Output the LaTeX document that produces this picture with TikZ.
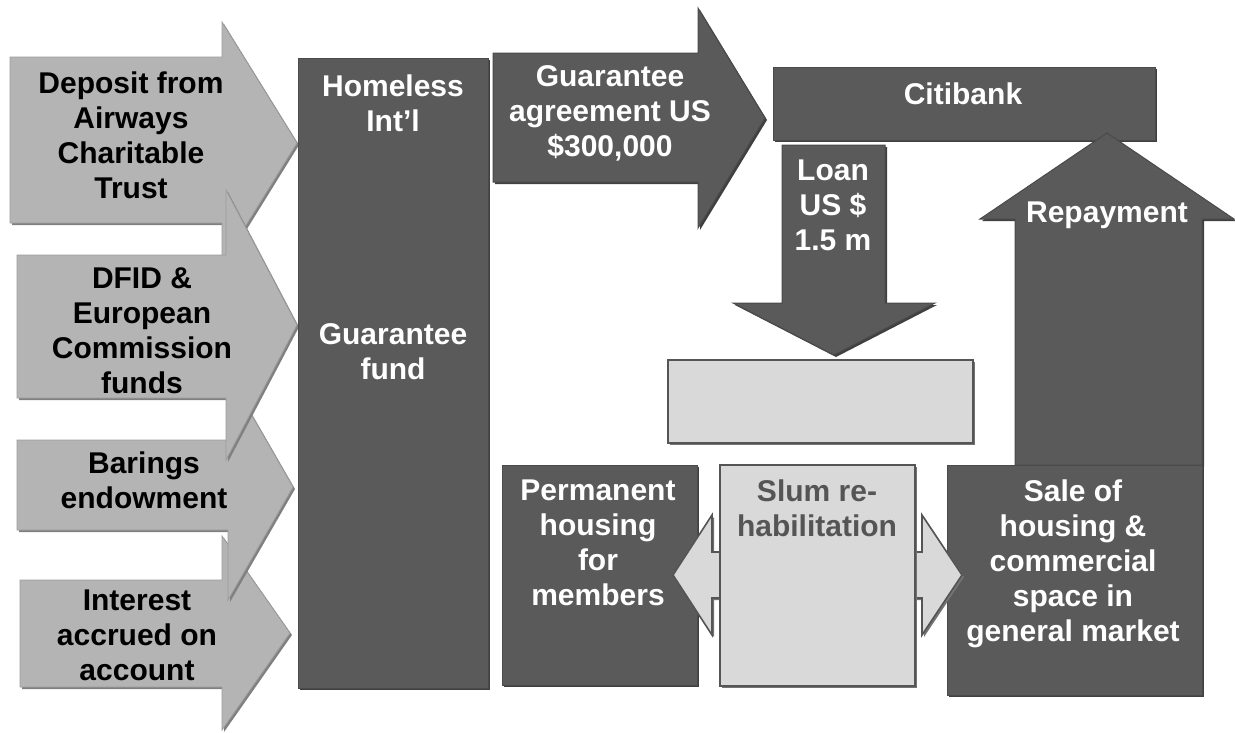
\documentclass[tikz,border=0pt]{standalone}
\usepackage{fontspec}
\setmainfont{Liberation Sans}
\definecolor{dk}{HTML}{5A5A5A}
\definecolor{dkline}{HTML}{4A4A4A}
\definecolor{lt}{HTML}{B4B4B4}
\definecolor{ltline}{HTML}{9C9C9C}
\definecolor{pl}{HTML}{D9D9D9}
\definecolor{plline}{HTML}{555555}
\definecolor{slumtxt}{HTML}{555555}
\begin{document}
\begin{tikzpicture}[x=1pt,y=-1pt,
  shd/.style={preaction={fill=#1, transform canvas={shift={(2pt,-2pt)}}}},
  darkshape/.style={fill=dk, draw=dkline, line width=1pt, shd=black!75},
  lightarrow/.style={fill=lt, draw=ltline, line width=0.8pt, shd=black!50},
  paleshape/.style={fill=pl, draw=plline, line width=1.6pt, line join=miter, shd=black!55},
  lbl/.style={anchor=north, inner sep=0pt, align=center, font=\fontsize{30}{35}\selectfont\bfseries},
  wlbl/.style={lbl, text=white},
]
\useasboundingbox[fill=white] (0,0) rectangle (1235,732);

% ---- left input arrows (drawing order matters for overlaps)
\draw[lightarrow] (10,57) -- (222,57) -- (222,22) -- (297,143) -- (222,264) -- (222,223) -- (10,223) -- cycle;
\draw[lightarrow] (20,580) -- (222,580) -- (222,536) -- (290,633) -- (222,730) -- (222,687) -- (20,687) -- cycle;
\draw[lightarrow] (17,440) -- (228,440) -- (228,374) -- (293,487) -- (228,600) -- (228,530) -- (17,530) -- cycle;
\draw[lightarrow] (17,255) -- (226,255) -- (226,190) -- (297,325) -- (226,460) -- (226,398) -- (17,398) -- cycle;

% ---- Homeless International column
\draw[darkshape] (298,58) rectangle (488,688);

% ---- Guarantee agreement arrow
\draw[darkshape] (493,53) -- (698,53) -- (698,8) -- (765,118) -- (698,228) -- (698,182) -- (493,182) -- cycle;

% ---- Citibank
\draw[darkshape] (773,67) rectangle (1155,140);

% ---- Loan arrow
\draw[darkshape] (782,145) -- (885,145) -- (885,303) -- (935,303) -- (834,355) -- (733,303) -- (782,303) -- cycle;

% ---- empty pale box
\draw[paleshape] (668,360) rectangle (973,443);

% ---- Permanent housing
\draw[darkshape] (502,465) rectangle (697,685);

% ---- Repayment arrow and Sale box
\draw[darkshape] (1015,465) -- (1015,219) -- (980,219) -- (1107,133) -- (1234,219) -- (1202,219) -- (1202,465) -- cycle;
\draw[darkshape] (947,465) rectangle (1202,695);

% ---- Slum rehabilitation double arrow
\draw[paleshape] (673,575) -- (712,515) -- (712,552) -- (922,552) -- (922,515) -- (962,575) -- (922,635) -- (922,598) -- (712,598) -- (712,635) -- cycle;
\draw[paleshape] (720,465) rectangle (915,686);

% ---- labels
\node[lbl] (dep) at (131,72) {Deposit from\\Airways\\Charitable\\Trust};
\node[lbl] (dfid) at (142,268) {DFID \&\\European\\Commission\\funds};
\node[lbl] (bar) at (144,452) {Barings\\endowment};
\node[lbl] (int) at (137,590) {Interest\\accrued on\\account};
\node[wlbl] (hi) at (393,75) {Homeless\\Int’l};
\node[wlbl] (gf) at (393,323) {Guarantee\\fund};
\node[wlbl] (ga) at (610,65) {Guarantee\\agreement US\\\$300,000};
\node[wlbl] (citi) at (963,83) {Citibank};
\node[wlbl] (loan) at (833,160) {Loan\\US \$\\1.5 m};
\node[wlbl] (rep) at (1107,202) {Repayment};
\node[wlbl] (perm) at (598,480) {Permanent\\housing\\for\\members};
\node[lbl, text=slumtxt] (slum) at (817,480) {Slum re-\\habilitation};
\node[wlbl] (sale) at (1073,480) {Sale of\\housing \&\\commercial\\space in\\general market};
\end{tikzpicture}
\end{document}
